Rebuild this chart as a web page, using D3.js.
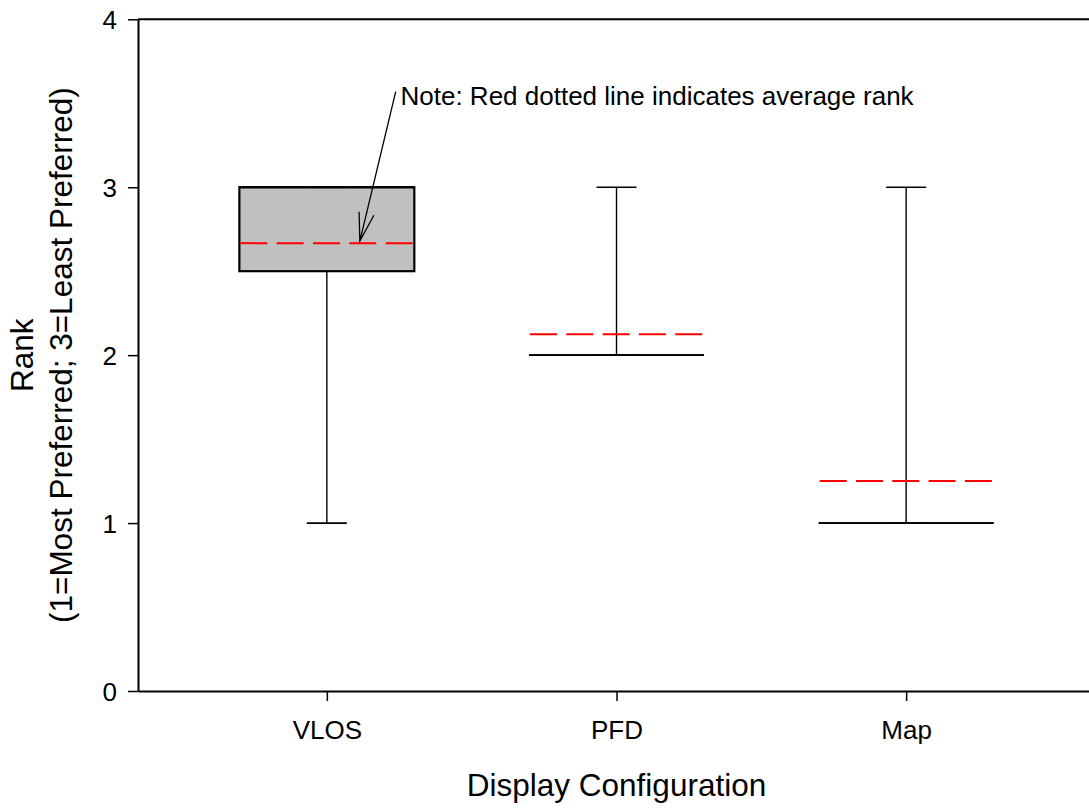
<!DOCTYPE html>
<html>
<head>
<meta charset="utf-8">
<script src="https://cdn.jsdelivr.net/npm/d3@7"></script>
<style>
  body { margin: 0; background: #fff; }
  text { font-family: "Liberation Sans", Arial, sans-serif; fill: #000; }
</style>
</head>
<body>
<svg id="chart" width="1089" height="808"></svg>
<script>
// ---- data ----
const categories = ["VLOS", "PFD", "Map"];
const minValues    = [1, 2, 1];
const q1Values     = [2.5, 2, 1];
const medianValues = [3, 2, 1];
const q3Values     = [3, 2, 1];
const maxValues    = [3, 3, 3];
const meanValues   = [2.667, 2.125, 1.25];
const yTicks = [0, 1, 2, 3, 4];
const xTitle = "Display Configuration";
const yTitle1 = "Rank";
const yTitle2 = "(1=Most Preferred; 3=Least Preferred)";
const noteText = "Note: Red dotted line indicates average rank";

// ---- layout ----
const plotL = 138, plotR = 1095, plotT = 19.3, plotB = 691;
const svg = d3.select("#chart");

const x = d3.scalePoint().domain(categories).range([plotL, plotR]).padding(0.652);
const y = d3.scaleLinear().domain([0, 4]).range([plotB, plotT]);
const boxW = x.step() * 0.604;
const capW = 40;

// top frame line
svg.append("line").attr("x1", plotL).attr("x2", plotR).attr("y1", plotT).attr("y2", plotT)
  .attr("stroke", "#000").attr("stroke-width", 2);

// y axis
const yAxis = svg.append("g").attr("transform", `translate(${plotL},0)`)
  .call(d3.axisLeft(y).tickValues(yTicks).tickFormat(d3.format("d")).tickSize(10).tickSizeOuter(0).tickPadding(11));
yAxis.select(".domain").attr("stroke-width", 2);
yAxis.selectAll(".tick line").attr("stroke-width", 1.5);
yAxis.selectAll(".tick text").attr("font-size", 26).attr("font-family", '"Liberation Sans", Arial, sans-serif').attr("dy", "0.36em");

// x axis
const xAxis = svg.append("g").attr("transform", `translate(0,${plotB})`)
  .call(d3.axisBottom(x).tickSize(10).tickSizeOuter(0).tickPadding(20));
xAxis.select(".domain").attr("stroke-width", 2);
xAxis.selectAll(".tick line").attr("stroke-width", 1.5);
xAxis.selectAll(".tick text").attr("font-size", 26).attr("font-family", '"Liberation Sans", Arial, sans-serif').attr("dy", "0.71em");

// boxes
const stats = categories.map((c, i) => ({
  c, min: minValues[i], q1: q1Values[i], med: medianValues[i], q3: q3Values[i], max: maxValues[i], mean: meanValues[i]
}));

const g = svg.append("g");
stats.forEach(s => {
  const cx = x(s.c);
  // whiskers
  g.append("line").attr("x1", cx).attr("x2", cx).attr("y1", y(s.q1)).attr("y2", y(s.min))
    .attr("stroke", "#000").attr("stroke-width", 1.4);
  g.append("line").attr("x1", cx).attr("x2", cx).attr("y1", y(s.q3)).attr("y2", y(s.max))
    .attr("stroke", "#000").attr("stroke-width", 1.4);
  // caps
  [s.min, s.max].forEach(v => {
    g.append("line").attr("x1", cx - capW / 2).attr("x2", cx + capW / 2).attr("y1", y(v)).attr("y2", y(v))
      .attr("stroke", "#000").attr("stroke-width", 1.6);
  });
  // box
  if (s.q3 > s.q1) {
    g.append("rect").attr("x", cx - boxW / 2).attr("y", y(s.q3)).attr("width", boxW).attr("height", y(s.q1) - y(s.q3))
      .attr("fill", "#c0c0c0").attr("stroke", "#000").attr("stroke-width", 2.2);
  } else {
    g.append("line").attr("x1", cx - boxW / 2).attr("x2", cx + boxW / 2).attr("y1", y(s.q1)).attr("y2", y(s.q1))
      .attr("stroke", "#000").attr("stroke-width", 1.6);
  }
  // median
  g.append("line").attr("x1", cx - boxW / 2).attr("x2", cx + boxW / 2).attr("y1", y(s.med)).attr("y2", y(s.med))
    .attr("stroke", "#000").attr("stroke-width", s.q3 > s.q1 ? 2.2 : 1.6);
  // mean
  g.append("line").attr("x1", cx - boxW / 2 + 1).attr("x2", cx + boxW / 2 - 1).attr("y1", y(s.mean)).attr("y2", y(s.mean))
    .attr("stroke", "#ff0000").attr("stroke-width", 2).attr("stroke-dasharray", "27,9.3");
});

// annotation
const tip = [x(categories[0]) + 33, y(meanValues[0]) - 2];
const tail = [395.7, 91.7];
const ang = Math.atan2(tail[1] - tip[1], tail[0] - tip[0]);
const armLen = 29.5, armAng = 15 * Math.PI / 180;
const arm1 = [tip[0] + armLen * Math.cos(ang - armAng), tip[1] + armLen * Math.sin(ang - armAng)];
const arm2 = [tip[0] + armLen * Math.cos(ang + armAng), tip[1] + armLen * Math.sin(ang + armAng)];
svg.append("path")
  .attr("d", `M${tail[0]},${tail[1]}L${tip[0]},${tip[1]}M${arm1[0]},${arm1[1]}L${tip[0]},${tip[1]}L${arm2[0]},${arm2[1]}`)
  .attr("fill", "none").attr("stroke", "#000").attr("stroke-width", 1.3);
svg.append("text").attr("x", 400.5).attr("y", 105).attr("font-size", 26).text(noteText);

// titles
svg.append("text").attr("x", (plotL + plotR) / 2).attr("y", 796).attr("text-anchor", "middle")
  .attr("font-size", 31.5).text(xTitle);
const midY = (plotT + plotB) / 2;
svg.append("text").attr("transform", `translate(33,${midY}) rotate(-90)`).attr("text-anchor", "middle")
  .attr("font-size", 31.5).text(yTitle1);
svg.append("text").attr("transform", `translate(72,${midY}) rotate(-90)`).attr("text-anchor", "middle")
  .attr("font-size", 31.5).text(yTitle2);
</script>
</body>
</html>
